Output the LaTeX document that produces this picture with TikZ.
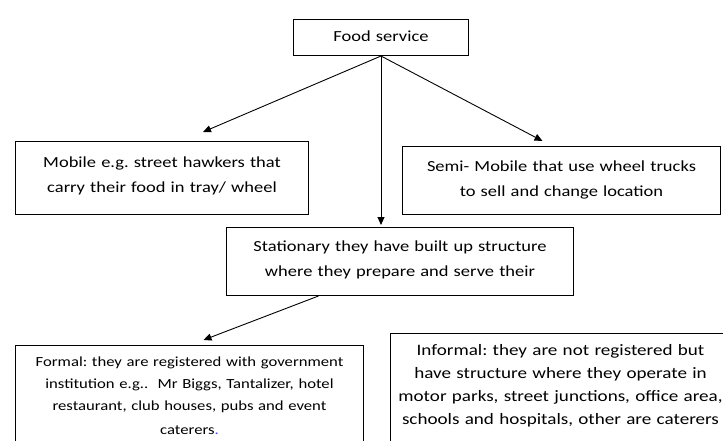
\documentclass[tikz,border=0pt]{standalone}
\usepackage{fontspec}
\setmainfont[FakeStretch=1.2]{Carlito}
\usepackage{xcolor}
\usetikzlibrary{arrows.meta}

\tikzset{
    box/.style={draw, line width=1pt, anchor=north west, align=center,
        inner xsep=0pt, inner ysep=0pt, font=\fontsize{15.4}{25}\selectfont\frenchspacing},
    smallbox/.style={box, font=\fontsize{13.9}{22}\selectfont\frenchspacing},
    midbox/.style={box, font=\fontsize{15.9}{23}\selectfont\frenchspacing},
    link/.style={-{Triangle[length=8pt,width=7pt]}, line width=0.9pt},
}

\begin{document}
\begin{tikzpicture}[x=1pt, y=-1pt]
    \clip (0,0) rectangle (723,441);

    % Top box
    \node[box, text width=175pt, text height=22pt, text depth=14pt] (food) at (293,19) {Food service};

    % Second row
    \node[box, text width=293pt, text height=26pt, text depth=47pt] (mobile) at (15,141)
        {Mobile e.g. street hawkers that\\ carry their food in tray/ wheel};
    \node[box, text width=318pt, text height=25pt, text depth=43pt] (semi) at (402,146)
        {Semi- Mobile that use wheel trucks\\ to sell and change location};
    \node[box, text width=347pt, text height=24pt, text depth=44pt] (stationary) at (226,227)
        {Stationary they have built up structure\\ where they prepare and serve their};

    % Bottom row (runs off the page)
    \node[smallbox, text width=348pt, text height=21pt, text depth=100pt] (formal) at (15,345)
        {Formal: they are registered with government\\ institution e.g.. \ Mr Biggs, Tantalizer, hotel\\
         restaurant, club houses, pubs and event\\[2pt] caterers\textcolor{blue!70}{.}};
    \node[midbox, text width=340pt, text height=22pt, text depth=110pt] (informal) at (390,333)
        {Informal: they are not registered but\\ have structure where they operate in\\
         motor parks, street junctions, office area,\\ schools and hospitals, other are caterers};

    % Arrows
    \draw[link] (food.south) -- ([xshift=41pt,yshift=9pt]mobile.north);
    \draw[link] (food.south) -- ([xshift=-19pt,yshift=5pt]semi.north);
    \draw[link, shorten >=2pt] (food.south) -- (food.south |- stationary.north);
    \draw[link] ([xshift=-81.5pt]stationary.south) -- ([xshift=14pt,yshift=5pt]formal.north);
\end{tikzpicture}
\end{document}
